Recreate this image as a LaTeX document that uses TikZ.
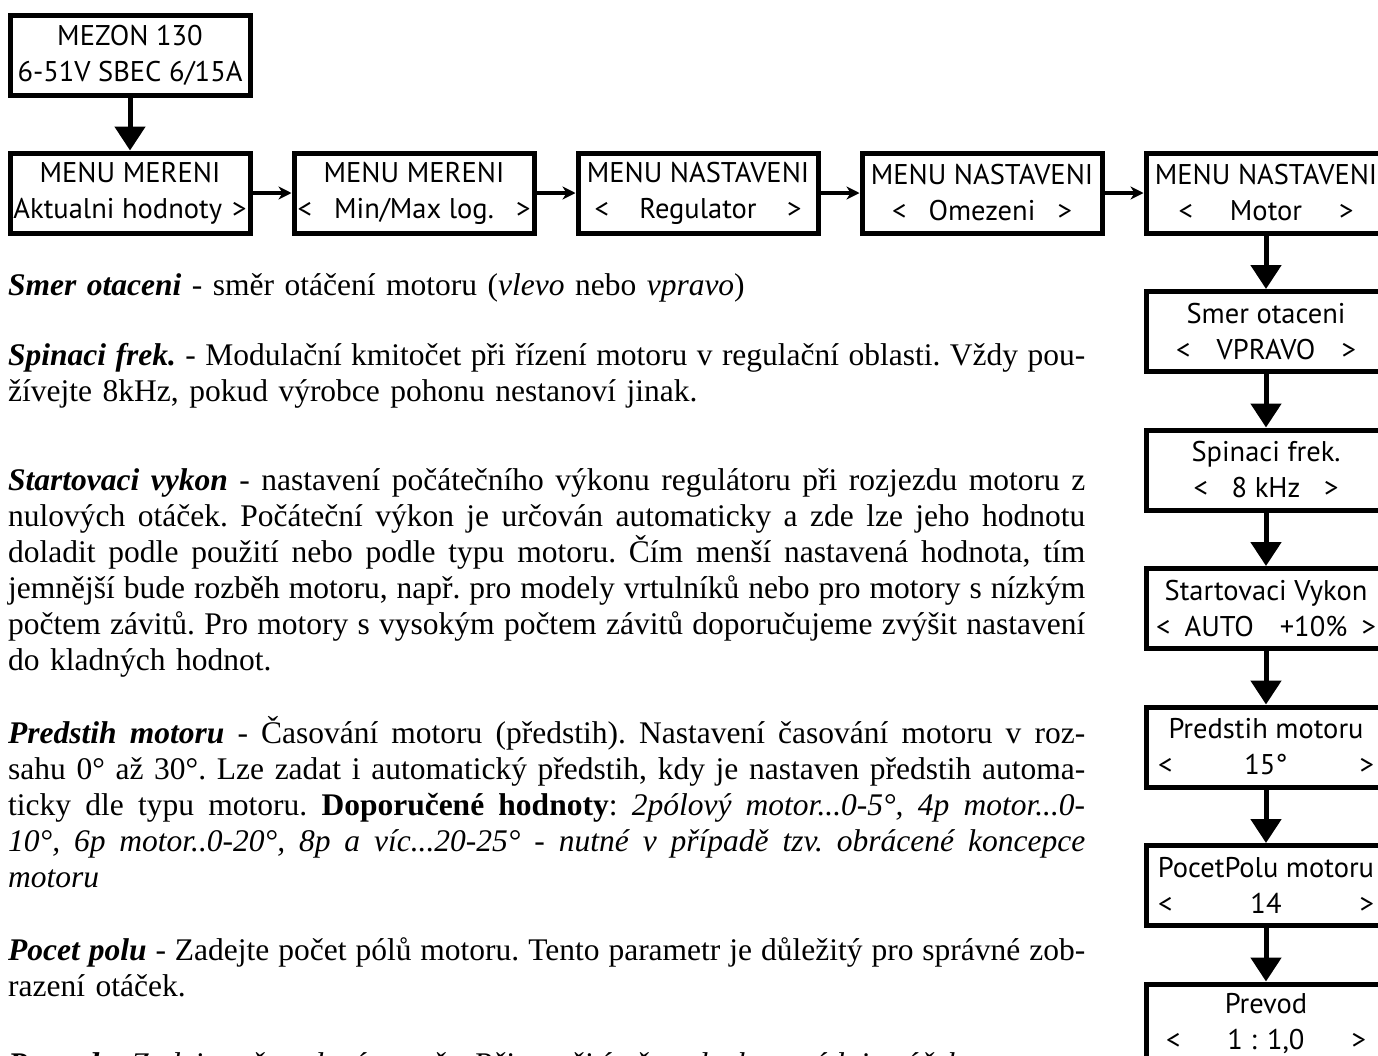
\documentclass[tikz,border=0pt]{standalone}
\usepackage{fontspec}
\setmainfont{Liberation Serif}
\newfontfamily\lcdfont{PT Sans}
\usetikzlibrary{arrows.meta,positioning}

\newcommand{\bi}[1]{\textbf{\textit{#1}}}
\newcommand{\sel}[2]{\makebox[#1pt]{<\hfill#2\hfill>}}
\newcommand{\fl}[1]{\hbox to 1077pt{\spaceskip=0.25em plus 1em minus 0.05em\xspaceskip=\spaceskip #1}}

\begin{document}
\begin{tikzpicture}[x=1pt,y=1pt,
  menu/.style={draw,line width=5pt,minimum width=240pt,minimum height=80pt,inner xsep=0pt,
    align=center,font=\lcdfont\fontsize{28.5}{36}\selectfont},
  nav/.style={-{Stealth[length=13pt,width=13pt,inset=4pt]},line width=3.5pt},
  down/.style={-{Triangle[length=24pt,width=30pt]},line width=5pt},
  para/.style={anchor=base west,inner sep=0pt,text width=1077pt,
    font=\fontsize{31.5}{36}\selectfont\frenchspacing},
  node distance=39pt]

\useasboundingbox (0,0) rectangle (1378,-1055);
\clip (0,0) rectangle (1378,-1055);

% menu row
\node[menu] (mezon) at (130,-55) {MEZON 130\\6-51V SBEC 6/15A};
\node[menu] (mereni) at (130,-193) {MENU MERENI\\Aktualni hodnoty\hspace{10pt}>};
\node[menu,right=of mereni] (minmax) {MENU MERENI\\\sel{233}{Min/Max log.}};
\node[menu,right=of minmax] (regulator) {MENU NASTAVENI\\\sel{207}{Regulator}};
\node[menu,right=of regulator] (omezeni) {MENU NASTAVENI\\\sel{180}{Omezeni}};
\node[menu,right=of omezeni] (motor) {MENU NASTAVENI\\\sel{175}{Motor}};

% motor submenu
\node[menu,below=53.5pt of motor] (smer) {Smer otaceni\\\sel{180}{VPRAVO}};
\node[menu,below=53.5pt of smer] (spinaci) {Spinaci frek.\\\sel{145}{8 kHz}};
\node[menu,below=53.5pt of spinaci] (start) {Startovaci Vykon\\\sel{220}{AUTO\hspace{26pt}+10\%}};
\node[menu,below=53.5pt of start] (predstih) {Predstih motoru\\\sel{216}{15°}};
\node[menu,below=53.5pt of predstih] (poly) {PocetPolu motoru\\\sel{216}{14}};
\node[menu,below=53.5pt of poly] (prevod) {Prevod\\\sel{200}{1 : 1,0}};

\draw[down] (mezon) -- (mereni);
\draw[nav] (mereni) -- (minmax);
\draw[nav] (minmax) -- (regulator);
\draw[nav] (regulator) -- (omezeni);
\draw[nav] (omezeni) -- (motor);
\draw[down] (motor) -- (smer);
\draw[down] (smer) -- (spinaci);
\draw[down] (spinaci) -- (start);
\draw[down] (start) -- (predstih);
\draw[down] (predstih) -- (poly);
\draw[down] (poly) -- (prevod);

% descriptions
\node[para] (t-smer) at (8,-295) {\bi{Smer otaceni} - směr otáčení motoru (\textit{vlevo} nebo \textit{vpravo})};
\node[para] (t-spinaci) at (8,-365) {%
\fl{\bi{Spinaci frek.} - Modulační kmitočet při řízení motoru v regulační oblasti. Vždy pou-}
\hbox{žívejte 8kHz, pokud výrobce pohonu nestanoví jinak.}};
\node[para] (t-start) at (8,-490) {%
\fl{\bi{Startovaci vykon} - nastavení počátečního výkonu regulátoru při rozjezdu motoru z}
\fl{nulových otáček. Počáteční výkon je určován automaticky a zde lze jeho hodnotu}
\fl{doladit podle použití nebo podle typu motoru. Čím menší nastavená hodnota, tím}
\fl{jemnější bude rozběh motoru, např. pro modely vrtulníků nebo pro motory s nízkým}
\fl{počtem závitů. Pro motory s vysokým počtem závitů doporučujeme zvýšit nastavení}
\hbox{do kladných hodnot.}};
\node[para] (t-predstih) at (8,-743) {%
\fl{\bi{Predstih motoru} - Časování motoru (předstih). Nastavení časování motoru v roz-}
\fl{sahu 0° až 30°. Lze zadat i automatický předstih, kdy je nastaven předstih automa-}
\fl{ticky dle typu motoru. \textbf{Doporučené hodnoty}: \textit{2pólový motor...0-5°, 4p motor...0-}}
\fl{\itshape 10°, 6p motor..0-20°, 8p a víc...20-25° - nutné v případě tzv. obrácené koncepce}
\hbox{\itshape motoru}};
\node[para] (t-poly) at (8,-960) {%
\fl{\bi{Pocet polu} - Zadejte počet pólů motoru. Tento parametr je důležitý pro správné zob-}
\hbox{razení otáček.}};
\node[para] (t-prevod) at (8,-1074) {\bi{Prevod} - \textit{Zadejte převodový poměr. Při použití převodovky se údaj otáček}};

\end{tikzpicture}
\end{document}
